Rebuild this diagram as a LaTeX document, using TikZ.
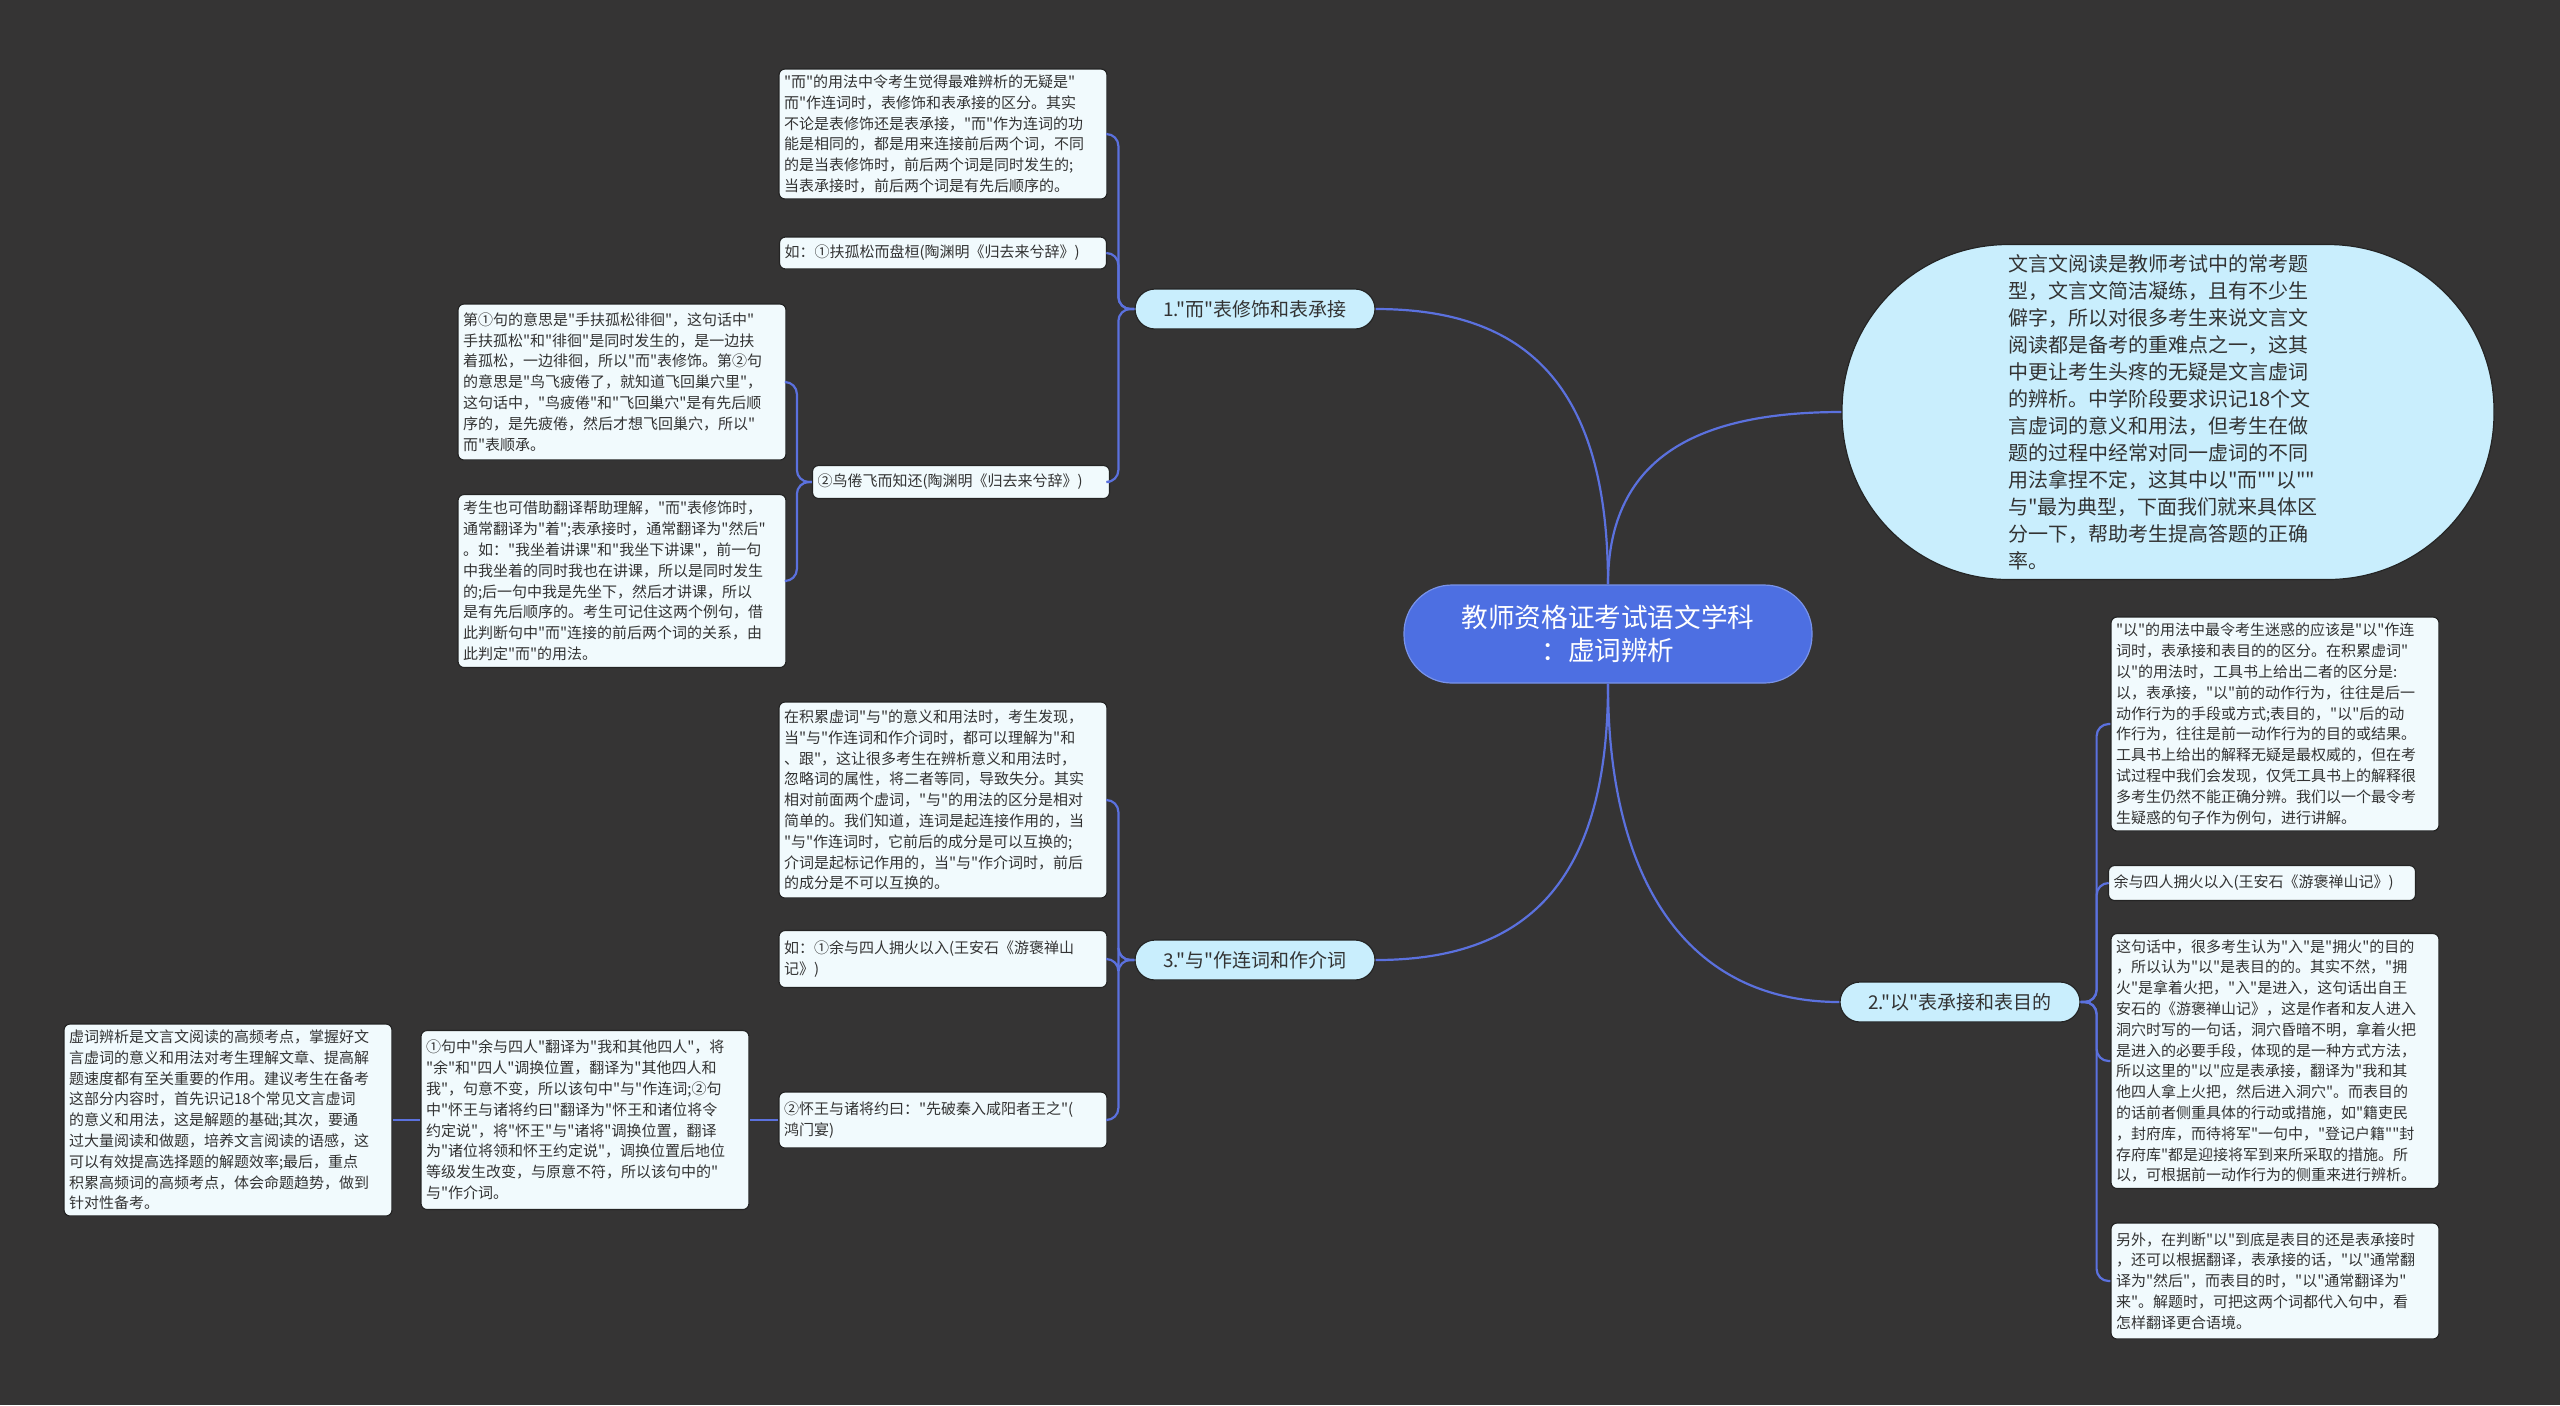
\documentclass[tikz,border=0pt]{standalone}
\usepackage{fontspec}
\usepackage{xcolor}
\usepackage{tikz}
\newfontfamily\cjkfont{Noto Sans CJK SC}
\definecolor{BgDark}{RGB}{53,52,52}
\definecolor{LeafFill}{RGB}{241,250,253}
\definecolor{TopicFill}{RGB}{201,238,253}
\definecolor{RootBlue}{RGB}{77,111,226}
\definecolor{LinkBlue}{RGB}{91,113,222}
\definecolor{InkGray}{RGB}{51,51,51}
\definecolor{EdgeGray}{RGB}{36,36,36}

\begin{document}
\begin{tikzpicture}[x=0.5pt, y=-0.5pt,
        leaf/.style={draw=EdgeGray, line width=0.6pt, fill=LeafFill, rounded corners=3pt,
              text=InkGray, align=left, inner xsep=2.5pt, inner ysep=2pt, text width=#1,
              font=\cjkfont\fontsize{7.5}{10.4}\selectfont},
        leaf/.default=159pt,
        topic/.style={draw=EdgeGray, line width=0.6pt, fill=TopicFill, rounded corners=10pt,
              text=InkGray, minimum width=120pt, minimum height=20pt,
              font=\cjkfont\fontsize{9.5}{11}\selectfont},
        root/.style={draw=RootBlue!75!white, line width=0.6pt, fill=RootBlue, rounded corners=24pt,
              text=white, align=center, minimum width=204pt, minimum height=49pt,
              font=\cjkfont\fontsize{13.3}{16.3}\selectfont},
        intro/.style={draw=EdgeGray, line width=0.6pt, fill=TopicFill, rounded corners=83pt,
              text=InkGray, align=left, text width=160pt, minimum width=326pt, minimum height=167.5pt,
              font=\cjkfont\fontsize{10}{13.5}\selectfont},
        link/.style={draw=LinkBlue, line width=1.1pt, rounded corners=6pt}]
        \useasboundingbox (0,0) rectangle (2560,1405);
        \fill[BgDark] (0,0) rectangle (2560,1405);

        \node[root] (root) at (1608,634) {教师资格证考试语文学科\\：虚词辨析};

        \node[intro] (intro) at (2168,412) {文言文阅读是教师考试中的常考题\\型，文言文简洁凝练，且有不少生\\僻字，所以对很多考生来说文言文\\阅读都是备考的重难点之一，这其\\中更让考生头疼的无疑是文言虚词\\的辨析。中学阶段要求识记18个文\\言虚词的意义和用法，但考生在做\\题的过程中经常对同一虚词的不同\\用法拿捏不定，这其中以"而""以""\\与"最为典型，下面我们就来具体区\\分一下，帮助考生提高答题的正确\\率。};

        % 1. er
        \node[topic] (t1) at (1255,309) {1."而"表修饰和表承接};
        \node[leaf, minimum height=65pt] (er1) at (943,134) {"而"的用法中令考生觉得最难辨析的无疑是"\\而"作连词时，表修饰和表承接的区分。其实\\不论是表修饰还是表承接，"而"作为连词的功\\能是相同的，都是用来连接前后两个词，不同\\的是当表修饰时，前后两个词是同时发生的;\\当表承接时，前后两个词是有先后顺序的。};
        \node[leaf=158.5pt, minimum height=16pt] (er2) at (943,253) {如：①扶孤松而盘桓(陶渊明《归去来兮辞》)};
        \node[leaf=143.5pt, minimum height=16.5pt] (er5) at (961,482) {②鸟倦飞而知还(陶渊明《归去来兮辞》)};
        \node[leaf, minimum height=78pt] (er3) at (622,382) {第①句的意思是"手扶孤松徘徊"，这句话中"\\手扶孤松"和"徘徊"是同时发生的，是一边扶\\着孤松，一边徘徊，所以"而"表修饰。第②句\\的意思是"鸟飞疲倦了，就知道飞回巢穴里"，\\这句话中，"鸟疲倦"和"飞回巢穴"是有先后顺\\序的，是先疲倦，然后才想飞回巢穴，所以"\\而"表顺承。};
        \node[leaf, minimum height=86.5pt] (er4) at (622,581) {考生也可借助翻译帮助理解，"而"表修饰时，\\通常翻译为"着";表承接时，通常翻译为"然后"\\。如："我坐着讲课"和"我坐下讲课"，前一句\\中我坐着的同时我也在讲课，所以是同时发生\\的;后一句中我是先坐下，然后才讲课，所以\\是有先后顺序的。考生可记住这两个例句，借\\此判断句中"而"连接的前后两个词的关系，由\\此判定"而"的用法。};

        % 2. yi
        \node[topic] (t2) at (1960,1002) {2."以"表承接和表目的};
        \node[leaf, minimum height=107pt] (yi1) at (2275,724) {"以"的用法中最令考生迷惑的应该是"以"作连\\词时，表承接和表目的的区分。在积累虚词"\\以"的用法时，工具书上给出二者的区分是:\\以，表承接，"以"前的动作行为，往往是后一\\动作行为的手段或方式;表目的，"以"后的动\\作行为，往往是前一动作行为的目的或结果。\\工具书上给出的解释无疑是最权威的，但在考\\试过程中我们会发现，仅凭工具书上的解释很\\多考生仍然不能正确分辨。我们以一个最令考\\生疑惑的句子作为例句，进行讲解。};
        \node[leaf=148.5pt, minimum height=17.5pt] (yi2) at (2262,883) {余与四人拥火以入(王安石《游褒禅山记》)};
        \node[leaf, minimum height=127.5pt] (yi3) at (2275,1061) {这句话中，很多考生认为"入"是"拥火"的目的\\，所以认为"以"是表目的的。其实不然，"拥\\火"是拿着火把，"入"是进入，这句话出自王\\安石的《游褒禅山记》，这是作者和友人进入\\洞穴时写的一句话，洞穴昏暗不明，拿着火把\\是进入的必要手段，体现的是一种方式方法，\\所以这里的"以"应是表承接，翻译为"我和其\\他四人拿上火把，然后进入洞穴"。而表目的\\的话前者侧重具体的行动或措施，如"籍吏民\\，封府库，而待将军"一句中，"登记户籍""封\\存府库"都是迎接将军到来所采取的措施。所\\以，可根据前一动作行为的侧重来进行辨析。};
        \node[leaf, minimum height=58pt] (yi4) at (2275,1281) {另外，在判断"以"到底是表目的还是表承接时\\，还可以根据翻译，表承接的话，"以"通常翻\\译为"然后"，而表目的时，"以"通常翻译为"\\来"。解题时，可把这两个词都代入句中，看\\怎样翻译更合语境。};

        % 3. yu
        \node[topic] (t3) at (1255,960) {3."与"作连词和作介词};
        \node[leaf, minimum height=98pt] (yu1) at (943,800) {在积累虚词"与"的意义和用法时，考生发现，\\当"与"作连词和作介词时，都可以理解为"和\\、跟"，这让很多考生在辨析意义和用法时，\\忽略词的属性，将二者等同，导致失分。其实\\相对前面两个虚词，"与"的用法的区分是相对\\简单的。我们知道，连词是起连接作用的，当\\"与"作连词时，它前后的成分是可以互换的;\\介词是起标记作用的，当"与"作介词时，前后\\的成分是不可以互换的。};
        \node[leaf, minimum height=28.5pt] (yu2) at (943,959) {如：①余与四人拥火以入(王安石《游褒禅山\\记》)};
        \node[leaf, minimum height=28pt] (yu3) at (943,1120) {②怀王与诸将约曰："先破秦入咸阳者王之"(\\鸿门宴)};
        \node[leaf, minimum height=89.5pt] (yu4) at (585,1120) {①句中"余与四人"翻译为"我和其他四人"，将\\"余"和"四人"调换位置，翻译为"其他四人和\\我"，句意不变，所以该句中"与"作连词;②句\\中"怀王与诸将约曰"翻译为"怀王和诸位将令\\约定说"，将"怀王"与"诸将"调换位置，翻译\\为"诸位将领和怀王约定说"，调换位置后地位\\等级发生改变，与原意不符，所以该句中的"\\与"作介词。};
        \node[leaf, minimum height=96pt] (yu5) at (228,1120) {虚词辨析是文言文阅读的高频考点，掌握好文\\言虚词的意义和用法对考生理解文章、提高解\\题速度都有至关重要的作用。建议考生在备考\\这部分内容时，首先识记18个常见文言虚词\\的意义和用法，这是解题的基础;其次，要通\\过大量阅读和做题，培养文言阅读的语感，这\\可以有效提高选择题的解题效率;最后，重点\\积累高频词的高频考点，体会命题趋势，做到\\针对性备考。};

        % connectors
        \draw[link] (root.north) .. controls +(0,-200) and +(150,0) .. (t1.east);
        \draw[link] (root.north) .. controls +(0,-130) and +(-140,0) .. (intro.west);
        \draw[link] (root.south) .. controls +(0,200) and +(150,0) .. (t3.east);
        \draw[link] (root.south) .. controls +(0,200) and +(-150,0) .. (t2.west);
        \foreach \kid in {er1,er2,er5}
          \draw[link] (t1.west) -- ++(-16,0) |- (\kid.east);
        \foreach \kid in {er3,er4}
          \draw[link] (er5.west) -- ++(-15,0) |- (\kid.east);
        \foreach \kid in {yi1,yi2,yi3,yi4}
          \draw[link] (t2.east) -- ++(16,0) |- (\kid.west);
        \foreach \kid in {yu1,yu2,yu3}
          \draw[link] (t3.west) -- ++(-16,0) |- (\kid.east);
        \draw[link] (yu3.west) -- (yu4.east);
        \draw[link] (yu4.west) -- (yu5.east);
      \end{tikzpicture}
\end{document}
